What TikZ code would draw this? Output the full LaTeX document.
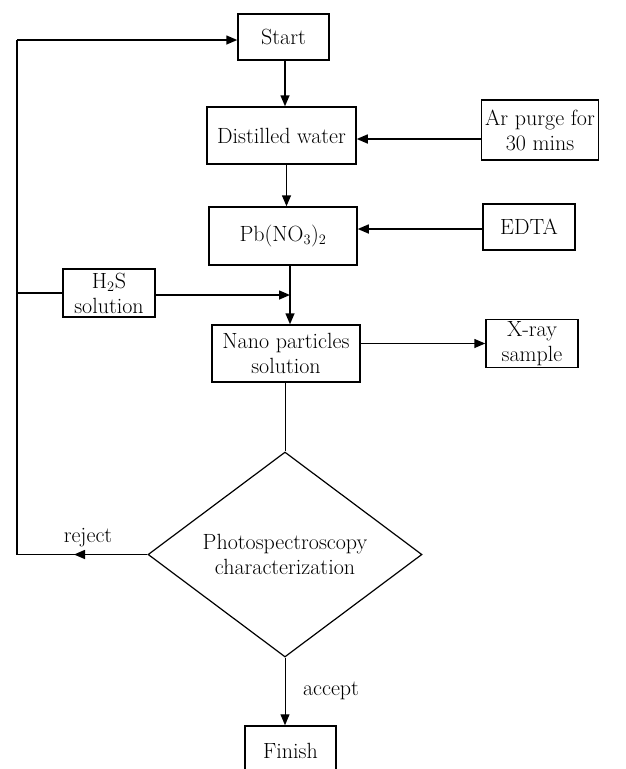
\documentclass[tikz,border=0pt]{standalone}
\usetikzlibrary{arrows.meta,shapes.geometric}
\begin{document}
\begin{tikzpicture}[x=1pt,y=-1pt,
  every node/.style={font=\fontsize{22}{25}\selectfont},
  box/.style={draw,line width=1.5pt,rectangle,align=center,inner sep=2pt},
  conn/.style={line width=1.5pt},
  arr/.style={conn,-{Triangle[length=11pt,width=9pt]}},
  thin conn/.style={line width=1pt},
  lbl/.style={inner sep=0pt}]
\useasboundingbox (0,0) rectangle (626,769);
\node[box,minimum width=91pt,minimum height=46pt] (start) at (283.5,37) {Start};
\node[box,minimum width=149pt,minimum height=57pt] (dist) at (281.5,135.5) {Distilled water};
\node[box,minimum width=117pt,minimum height=60pt] (ar) at (540,130) {Ar purge for\\30 mins};
\node[box,minimum width=148pt,minimum height=58pt] (pb) at (283,236) {Pb(NO$_3$)$_2$};
\node[box,minimum width=92pt,minimum height=46pt] (edta) at (529,227) {EDTA};
\node[box,minimum width=92pt,minimum height=48pt] (hs) at (109,293) {H$_2$S\\solution};
\node[box,minimum width=148pt,minimum height=57pt] (nano) at (286,353.5) {Nano particles\\solution};
\node[box,minimum width=92pt,minimum height=47pt] (xray) at (532,343.5) {X-ray\\sample};
\node[draw,line width=1.2pt,diamond,aspect=1.34,minimum width=274pt,minimum height=205pt,inner sep=0pt,align=center] (dec) at (285,554.5) {Photospectroscopy\\characterization};
\node[box,minimum width=91pt,minimum height=49pt] (fin) at (290.5,750.5) {Finish};
\node[lbl] (rej) at (88,538) {reject};
\node[lbl] (acc) at (331,691) {accept};
\coordinate (ltop) at (17,40);
\coordinate (lbot) at (17,554.5);
\coordinate (rtip) at (74,554.5);
\coordinate (lmid) at (17,293);
% main chain
\draw[arr] ([xshift=1.5pt]start.south) -- ([xshift=1.5pt]start.south |- dist.north);
\draw[arr] ([xshift=5pt]dist.south) -- ([xshift=5pt]dist.south |- pb.north);
\draw[arr] ([xshift=7pt]pb.south) -- ([xshift=7pt]pb.south |- nano.north);
\draw[thin conn] (dec.north |- nano.south) -- (dec.north);
\draw[thin conn,-{Triangle[length=11pt,width=9pt]}] (dec.south) -- (dec.south |- fin.north);
% side inputs
\draw[arr] ([yshift=-9pt]ar.west) -- ([yshift=-9pt]ar.west -| dist.east);
\draw[arr] ([yshift=-2pt]edta.west) -- ([yshift=-2pt]edta.west -| pb.east);
\draw[arr] ([yshift=-2pt]hs.east) -- ([yshift=-2pt,xshift=7pt]hs.east -| pb.south);
\draw[arr] (xray.west -| nano.east) -- (xray.west);
% reject loop
\draw[conn] (dec.west) -- (lbot) -- (ltop);
\draw[arr] (dec.west) -- (rtip);
\draw[arr] (ltop) -- (ltop -| start.west);
\draw[conn] (lmid) -- (hs.west);
\end{tikzpicture}
\end{document}
